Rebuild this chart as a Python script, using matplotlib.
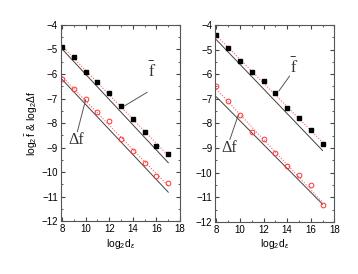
import numpy as np
import matplotlib
matplotlib.use('Agg')
import matplotlib.pyplot as plt
from matplotlib.ticker import MultipleLocator

plt.rcParams['font.family'] = ['Liberation Sans', 'DejaVu Sans']
plt.rcParams['mathtext.fontset'] = 'custom'
plt.rcParams['mathtext.rm'] = 'Liberation Sans'
plt.rcParams['mathtext.it'] = 'Liberation Sans:italic'

log_d = [8, 9, 10, 11, 12, 13, 14, 15, 16, 17]

# left panel
f_left = [-4.91, -5.32, -5.90, -6.34, -6.76, -7.31, -7.82, -8.35, -8.95, -9.28]
df_left = [-6.19, -6.62, -7.03, -7.55, -7.90, -8.65, -9.14, -9.65, -10.16, -10.46]
# right panel
f_right = [-4.41, -4.93, -5.47, -5.90, -6.29, -6.76, -7.36, -7.77, -8.26, -8.83]
df_right = [-6.49, -7.10, -7.67, -8.33, -8.64, -9.20, -9.71, -10.09, -10.50, -11.33]

# black reference lines (value at x=8 and x=17)
ref_x = [8, 17]
ref_f_left = [-4.98, -9.62]
ref_df_left = [-6.22, -10.82]
ref_f_right = [-4.60, -9.10]
ref_df_right = [-6.92, -11.28]

fig = plt.figure(figsize=(3.58, 2.74), dpi=100)
ax1 = fig.add_axes([0.170, 0.193, 0.333, 0.716])
ax2 = fig.add_axes([0.601, 0.190, 0.333, 0.719])


def panel(ax, f, df, rf, rdf, f_txt, f_line, df_txt, df_line):
    ax.plot(ref_x, rf, color='#404040', lw=0.7)
    ax.plot(ref_x, rdf, color='#404040', lw=0.7)
    # linear fit through the points, red dotted
    for y in (f, df):
        p = np.polyfit(log_d, y, 1)
        ax.plot(ref_x, np.polyval(p, ref_x), color='#ff6060', lw=0.8, ls=(0, (1, 1.5)))
    ax.plot(log_d, f, 's', color='black', ms=3.0)
    ax.plot(log_d, df, 'o', mfc='none', mec='#ff3030', mew=0.7, ms=3.4)
    ax.text(f_txt[0], f_txt[1], r'$\bar{\mathrm{f}}$', math_fontfamily='stix',
            fontsize=12, ha='center', va='center', color='#333333')
    ax.plot(f_line[0], f_line[1], color='#555555', lw=0.7)
    ax.text(df_txt[0], df_txt[1], 'Δf', family='Liberation Serif',
            fontsize=11.5, ha='center', va='center', color='#333333')
    ax.plot(df_line[0], df_line[1], color='#555555', lw=0.7)

    ax.set_xlim(7.9, 18)
    ax.set_ylim(-12, -4)
    ax.xaxis.set_major_locator(MultipleLocator(2))
    ax.xaxis.set_minor_locator(MultipleLocator(1))
    ax.yaxis.set_major_locator(MultipleLocator(1))
    ax.yaxis.set_minor_locator(MultipleLocator(0.5))
    ax.tick_params(which='both', direction='in', top=True, right=True,
                   labelsize=7, color='#444444', pad=2)
    ax.tick_params(which='major', length=3)
    ax.tick_params(which='minor', length=1.5)
    for s in ax.spines.values():
        s.set_color('#555555')
        s.set_linewidth(0.8)
    ax.set_xlabel(r'log$_2$d$_\epsilon$', fontsize=7.5, labelpad=2)


panel(ax1, f_left, df_left, ref_f_left, ref_df_left,
      (15.6, -5.85), ([15.2, 13.3], [-6.75, -7.3]),
      (9.2, -8.7), ([9.3, 10.0], [-8.35, -7.05]))
panel(ax2, f_right, df_right, ref_f_right, ref_df_right,
      (14.6, -5.7), ([14.2, 13.3], [-6.08, -6.68]),
      (9.1, -9.0), ([9.15, 9.85], [-8.65, -7.67]))

ax1.set_ylabel(r'log$_2\,\bar{\mathrm{f}}$ & log$_2\Delta$f', fontsize=7.5, labelpad=1)

fig.savefig('out.png', dpi=100)
